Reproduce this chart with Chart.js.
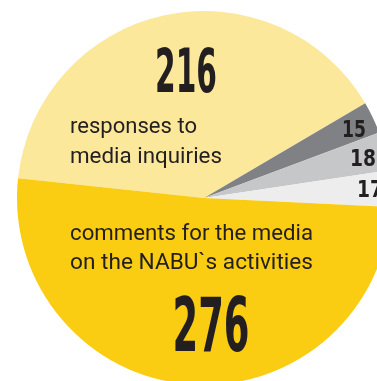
<!DOCTYPE html>
<html>
<head>
<meta charset="utf-8">
<script src="https://cdn.jsdelivr.net/npm/chart.js@4/dist/chart.umd.min.js"></script>
<style>
  html, body { margin: 0; padding: 0; background: #fff; overflow: hidden; width: 377px; height: 381px; }
  #wrap { position: absolute; left: 17px; top: 11px; width: 374px; height: 374px; }
</style>
</head>
<body>
<div id="wrap"><canvas id="pie" width="374" height="374"></canvas></div>
<script>
// Data
const categories = ['responses to media inquiries', 'other 1', 'other 2', 'other 3', 'comments for the media on the NABU`s activities'];
const values = [216, 15, 18, 17, 276];
const sliceColors = ['#FBE89B', '#808184', '#C6C7C9', '#EDEDED', '#FACC12'];

const ink = '#231F20';

// Label layout, offsets from pie centre
const bigLabels = [
  { text: '216', dx: -18, dy: -106, size: 60, width: 62, align: 'center' },
  { text: '276', dx: 7, dy: 153, size: 75, width: 77, align: 'center' },
  { text: '15', dx: 138, dy: -61, size: 23, width: 24, align: 'left' },
  { text: '18', dx: 146, dy: -32, size: 23, width: 26, align: 'left' },
  { text: '17', dx: 153, dy: -1, size: 23, width: 26, align: 'left' }
];
const textLines = [
  { text: 'responses to', dy: -65, width: 127 },
  { text: 'media inquiries', dy: -35, width: 152 },
  { text: 'comments for the media', dy: 42, width: 243 },
  { text: 'on the NABU`s activities', dy: 71, width: 243 }
];

function fitText(ctx, text, x, y, width, align) {
  const w = ctx.measureText(text).width;
  const s = width / w;
  ctx.save();
  ctx.translate(x, y);
  ctx.scale(s, 1);
  ctx.textAlign = align;
  ctx.fillText(text, 0, 0);
  ctx.restore();
}

const labelPlugin = {
  id: 'labels',
  afterDraw(chart) {
    const arc = chart.getDatasetMeta(0).data[0];
    const cx = arc.x, cy = arc.y;
    const ctx = chart.ctx;
    ctx.save();
    ctx.fillStyle = ink;
    ctx.textBaseline = 'alphabetic';
    bigLabels.forEach(l => {
      ctx.font = `bold ${l.size}px "DejaVu Sans Condensed", "DejaVu Sans", sans-serif`;
      fitText(ctx, l.text, cx + l.dx, cy + l.dy, l.width, l.align);
    });
    ctx.font = '22px Roboto, "Noto Sans", sans-serif';
    textLines.forEach(l => {
      fitText(ctx, l.text, cx - 134, cy + l.dy, l.width, 'left');
    });
    ctx.restore();
  }
};

new Chart(document.getElementById('pie'), {
  type: 'pie',
  data: {
    labels: categories,
    datasets: [{
      data: values,
      backgroundColor: sliceColors,
      borderWidth: 0,
      hoverOffset: 0
    }]
  },
  options: {
    responsive: false,
    animation: false,
    rotation: 276.1,
    layout: { padding: 0 },
    plugins: {
      legend: { display: false },
      tooltip: { enabled: false }
    },
    events: []
  },
  plugins: [labelPlugin]
});
</script>
</body>
</html>
